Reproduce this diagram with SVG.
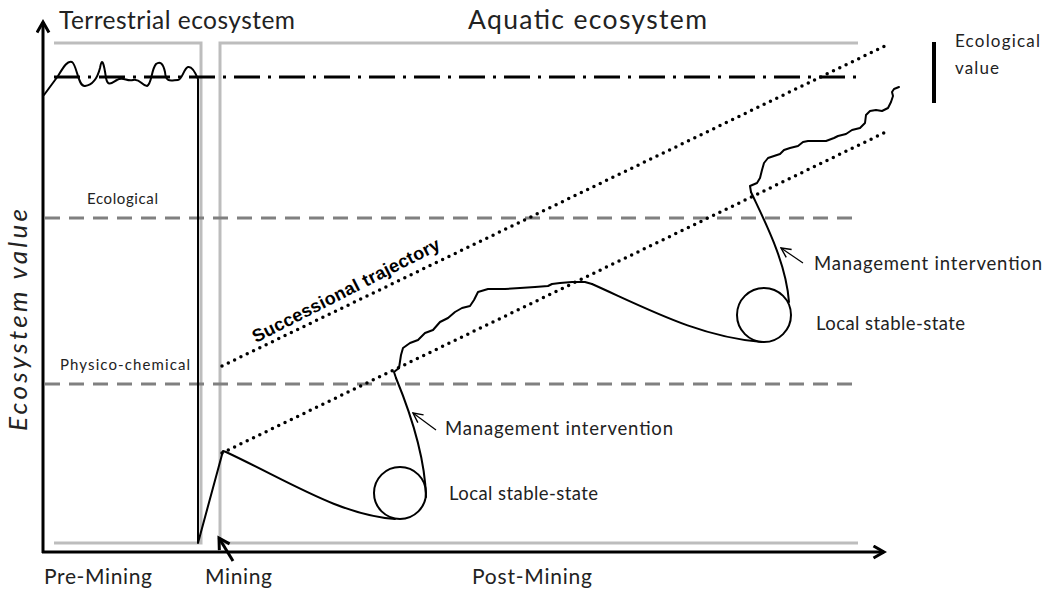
<svg xmlns="http://www.w3.org/2000/svg" width="1048" height="592" viewBox="0 0 1048 592">
<style>
text{font-family:Lato,"Open Sans","Liberation Sans",sans-serif;fill:#222}
.box{fill:none;stroke:#bdbdbd;stroke-width:3}
.grid{stroke:#808080;stroke-width:3;stroke-dasharray:15 9;fill:none}
.dot{stroke:#000;stroke-width:3.5;stroke-linecap:round;stroke-dasharray:0 7;fill:none}
.curve{stroke:#000;stroke-width:2;fill:none;stroke-linejoin:round;stroke-linecap:round}
.axis{stroke:#000;stroke-width:3;fill:none}
.small{font-size:15px}
.mid{font-size:18.5px}
.big{font-size:24.5px}
.bot{font-size:21px}
.bold{font-family:"Liberation Sans",Arial,sans-serif;font-weight:bold;font-size:18px;fill:#000}
</style>
<defs>
<marker id="ah" viewBox="0 0 10 10" refX="8" refY="5" markerWidth="5" markerHeight="5" orient="auto" markerUnits="strokeWidth">
<path d="M1,1 L8,5 L1,9" fill="none" stroke="#000" stroke-width="2"/>
</marker>
<marker id="thin" viewBox="0 0 10 10" refX="9" refY="5" markerWidth="12" markerHeight="12" orient="auto" markerUnits="userSpaceOnUse">
<path d="M1,1 L9,5 L1,9" fill="none" stroke="#000" stroke-width="1.2"/>
</marker>
</defs>

<g id="frames">
<path class="box" d="M54,43 H201 V543 H54"/>
<path class="box" d="M858,43 H220 V543 H858"/>
</g>

<g id="thresholds">
<line class="grid" x1="45" y1="218" x2="858" y2="218"/>
<line class="grid" x1="45" y1="384" x2="858" y2="384"/>
<text class="small" x="87" y="204" textLength="71">Ecological</text>
<text class="small" x="60" y="370" textLength="130">Physico-chemical</text>
</g>

<g id="reference-line">
<line x1="54" y1="77" x2="864" y2="77" stroke="#000" stroke-width="3" stroke-dasharray="26 8 3 8"/>
<line x1="934" y1="42" x2="934" y2="103" stroke="#000" stroke-width="4"/>
<text x="955" y="47" style="font-size:17px" textLength="85">Ecological</text>
<text x="955" y="74" style="font-size:17px" textLength="44">value</text>
</g>

<g id="axes">
<line class="axis" x1="43" y1="553" x2="43" y2="22" marker-end="url(#ah)"/>
<line class="axis" x1="42" y1="552" x2="884" y2="552" marker-end="url(#ah)"/>
<text x="27" y="320" style="font-size:26px" font-style="italic" text-anchor="middle" transform="rotate(-90 27 320)" textLength="222">Ecosystem value</text>
<text class="big" x="59" y="29" textLength="236">Terrestrial ecosystem</text>
<text x="468" y="29" style="font-size:26.5px" textLength="239">Aquatic ecosystem</text>
<text class="bot" x="44" y="584" textLength="108">Pre-Mining</text>
<text class="bot" x="205" y="584" textLength="67">Mining</text>
<text class="bot" x="472" y="584" textLength="120">Post-Mining</text>
<line x1="233" y1="561" x2="219" y2="538" stroke="#000" stroke-width="3" marker-end="url(#ah)"/>
</g>

<g id="trajectories">
<line class="dot" x1="222" y1="366" x2="889" y2="44"/>
<line class="dot" x1="222" y1="453" x2="890" y2="130"/>
<text class="bold" x="0" y="0" transform="translate(256,343) rotate(-27)" textLength="208">Successional trajectory</text>
</g>

<g id="ecosystem-curve">
<path class="curve" d="M44,95 L58,76 C64,66 68,60 72,62 C77,65 78,87 85,86 C92,85 97,80 100,68 C102,56 104,64 106,78 C108,88 113,82 117,80 C123,76 127,82 133,80 C140,78 142,86 147,86 C152,84 151,70 156,64 C160,61 163,63 165,72 C166,84 172,80 178,80 C182,80 184,68 188,67 C192,66 196,74 198,79 L198,543 L223,451 L226,452 C290,482 340,515 395,519"/>
<circle class="curve" cx="400" cy="493" r="26" stroke-width="3"/>
<path class="curve" d="M426,497 C425,455 410,412 396,378"/>
<polyline class="curve" points="396,378 394,372 399,368 401,355 403,348 410,343 418,340 425,333 433,330 440,322 448,318 455,312 462,308 470,306 474,300 478,292 488,289 505,289 520,288 535,287 548,286 552,284 560,283 572,282 585,282 592,284"/>
<path class="curve" d="M592,284 C650,310 700,337 762,342"/>
<circle class="curve" cx="764" cy="315" r="27" stroke-width="3"/>
<path class="curve" d="M789,302 C786,262 765,222 751,192"/>
<polyline class="curve" points="751,192 750,186 757,183 760,178 762,170 764,163 768,158 774,156 780,154 784,150 790,148 798,146 803,142 808,141 816,141 826,141 834,138 838,136 846,134 852,130 860,128 865,123 866,115 870,111 876,110 882,111 888,108 891,102 893,96 892,92 894,89 899,87"/>
</g>

<g id="annotations">
<line x1="436" y1="430" x2="413" y2="413" stroke="#000" stroke-width="1.2" marker-end="url(#thin)"/>
<text class="mid" x="445" y="435" textLength="228">Management intervention</text>
<text class="mid" x="449" y="500" textLength="149">Local stable-state</text>
<line x1="803" y1="263" x2="781" y2="248" stroke="#000" stroke-width="1.2" marker-end="url(#thin)"/>
<text class="mid" x="814" y="270" textLength="228">Management intervention</text>
<text class="mid" x="816" y="330" textLength="149">Local stable-state</text>
</g>
</svg>
